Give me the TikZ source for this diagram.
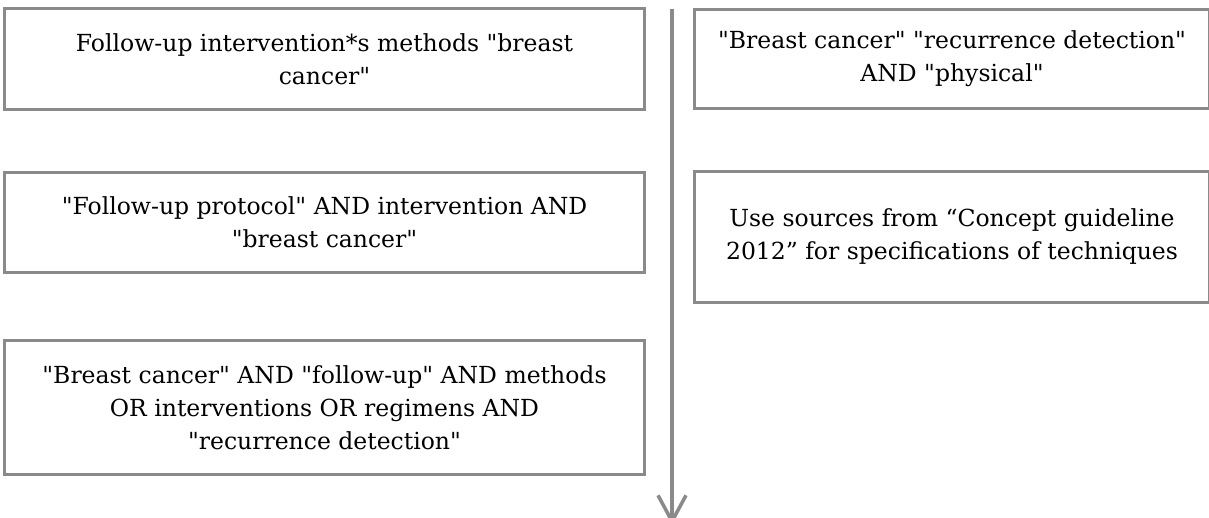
\documentclass[tikz,border=0pt]{standalone}
\usepackage{fontspec}
\setmainfont{DejaVu Serif}[Ligatures=TeXOff]
\usetikzlibrary{arrows.meta, positioning, calc}
\definecolor{boxgray}{HTML}{8A8A8A}
\tikzset{
  base/.style = {
    draw=boxgray, line width=3pt, align=center, inner sep=0pt,
    font=\fontsize{23.5}{33}\selectfont, text=black
  },
  query/.style = {
    base, minimum width=640pt
  },
  source/.style = {
    base, minimum width=515pt
  },
  arrow/.style = {
    draw=boxgray, line width=3.5pt,
    -{Straight Barb[length=26pt,width=28pt]}
  }
}

\begin{document}
\begin{tikzpicture}[
  node distance = 60pt and 47pt
  ]
  \useasboundingbox (0,0) rectangle (1209pt,-518pt);

  % Left column
  \node[query, minimum height=101pt, anchor=north west] (follow) at (3pt,-7pt)
    {Follow-up intervention*s methods "breast\\cancer"};
  \node[query, minimum height=100pt, below=of follow] (protocol)
    {"Follow-up protocol" AND intervention AND\\"breast cancer"};
  \node[query, minimum height=134pt, below=65pt of protocol] (regimens)
    {"Breast cancer" AND "follow-up" AND methods\\OR interventions OR regimens AND\\"recurrence detection"};

  % Right column
  \node[source, minimum height=99pt, right=of follow] (physical)
    {"Breast cancer" "recurrence detection"\\AND "physical"};
  \node[source, minimum height=131pt, below=of physical] (guideline)
    {Use sources from “Concept guideline\\2012” for specifications of techniques};

  % Flow arrow
  \coordinate (flowtop) at ($(follow.north east)+(26pt,-2pt)$);
  \coordinate (flowend) at ($(regimens.south east)+(26pt,-49pt)$);
  \draw[arrow] (flowtop) -- (flowend);

\end{tikzpicture}
\end{document}
